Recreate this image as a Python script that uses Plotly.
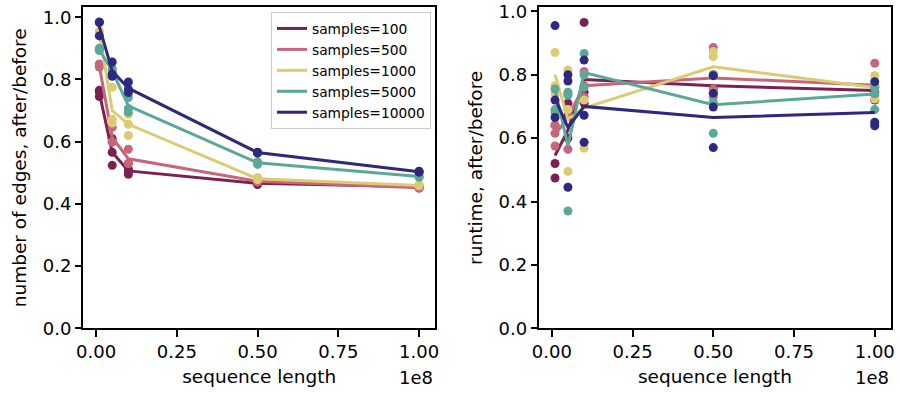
import plotly.graph_objects as go

seq_len = [1e6, 5e6, 1e7, 5e7, 1e8]
labels = ["samples=100", "samples=500", "samples=1000", "samples=5000", "samples=10000"]
colors = ["#7b2152", "#c7657a", "#dccb72", "#5aa998", "#2d2880"]

# left panel: number of edges, after/before  (line = mean, dots = replicates)
edges_mean = [
    [0.757, 0.566, 0.506, 0.466, 0.455],
    [0.843, 0.614, 0.545, 0.473, 0.452],
    [0.953, 0.700, 0.656, 0.481, 0.459],
    [0.895, 0.828, 0.715, 0.532, 0.488],
    [0.970, 0.827, 0.772, 0.565, 0.503],
]
edges_pts = [
    [[0.745, 0.76, 0.765], [0.566, 0.524, 0.61], [0.506, 0.495, 0.512], [0.469, 0.462, 0.467], [0.455, 0.457, 0.453]],
    [[0.84, 0.85, 0.845], [0.646, 0.598, 0.60], [0.576, 0.53, 0.53], [0.475, 0.47, 0.474], [0.452, 0.45, 0.454]],
    [[0.956, 0.95, 0.953], [0.775, 0.672, 0.66], [0.688, 0.656, 0.62], [0.485, 0.478, 0.48], [0.46, 0.458, 0.462]],
    [[0.897, 0.893, 0.90], [0.83, 0.82, 0.835], [0.742, 0.707, 0.695], [0.535, 0.527, 0.534], [0.49, 0.486, 0.488]],
    [[0.983, 0.94, 0.985], [0.856, 0.817, 0.81], [0.792, 0.768, 0.758], [0.565, 0.566, 0.563], [0.505, 0.502, 0.503]],
]

# right panel: runtime, after/before
rt_mean = [
    [0.545, 0.625, 0.785, 0.765, 0.750],
    [0.610, 0.665, 0.765, 0.790, 0.767],
    [0.800, 0.660, 0.695, 0.825, 0.760],
    [0.755, 0.575, 0.807, 0.705, 0.739],
    [0.725, 0.633, 0.700, 0.665, 0.681],
]
rt_pts = [
    [[0.52, 0.474, 0.64], [0.71, 0.67, 0.60], [0.965, 0.745, 0.71], [0.80, 0.755, 0.74], [0.76, 0.745, 0.72]],
    [[0.64, 0.575, 0.615], [0.69, 0.565, 0.74], [0.81, 0.765, 0.73], [0.886, 0.755, 0.73], [0.836, 0.765, 0.735]],
    [[0.87, 0.765, 0.74], [0.815, 0.495, 0.69], [0.80, 0.568, 0.72], [0.873, 0.857, 0.745], [0.797, 0.723, 0.76]],
    [[0.755, 0.69, 0.68], [0.745, 0.37, 0.735], [0.867, 0.80, 0.76], [0.80, 0.713, 0.615], [0.76, 0.74, 0.69]],
    [[0.955, 0.72, 0.665], [0.80, 0.78, 0.445], [0.846, 0.672, 0.587], [0.797, 0.742, 0.698, 0.57], [0.778, 0.65, 0.639]],
]

xtick_vals = [0, 2.5e7, 5e7, 7.5e7, 1e8]
xtick_text = ["0.00", "0.25", "0.50", "0.75", "1.00"]
ytick_vals = [0, 0.2, 0.4, 0.6, 0.8, 1.0]
ytick_text = ["0.0", "0.2", "0.4", "0.6", "0.8", "1.0"]

FONT = "DejaVu Sans"
TICK_SIZE = 18
TITLE_SIZE = 18.5

fig = go.Figure()


def add_panel(means, pts, xa, ya, legend):
    for i in range(len(labels)):
        xs, ys = [], []
        for j, reps in enumerate(pts[i]):
            xs += [seq_len[j]] * len(reps)
            ys += reps
        fig.add_trace(go.Scatter(x=xs, y=ys, mode="markers", xaxis=xa, yaxis=ya,
                                 marker=dict(color=colors[i], size=9, line=dict(width=0)),
                                 showlegend=False, hoverinfo="skip"))
        fig.add_trace(go.Scatter(x=seq_len, y=means[i], mode="lines", xaxis=xa, yaxis=ya,
                                 line=dict(color=colors[i], width=3),
                                 name=labels[i], showlegend=legend))


add_panel(edges_mean, edges_pts, "x", "y", True)
add_panel(rt_mean, rt_pts, "x2", "y2", False)

axis_common = dict(showline=True, linecolor="black", linewidth=1.5, mirror=True,
                   ticks="outside", ticklen=6.5, tickwidth=1.5, tickcolor="black",
                   showgrid=False, zeroline=False, automargin=False,
                   tickfont=dict(family=FONT, size=TICK_SIZE, color="black"))

xrange = [-3.95e6, 1.0495e8]
fig.update_layout(
    width=899, height=393,
    margin=dict(l=0, r=0, t=0, b=0),
    paper_bgcolor="white", plot_bgcolor="white",
    font=dict(family=FONT, color="black"),
    xaxis=dict(domain=[0.0927, 0.4839], range=xrange, tickvals=xtick_vals, ticktext=xtick_text,
               anchor="y", title=dict(text="sequence length", font=dict(size=TITLE_SIZE), standoff=9),
               **axis_common),
    yaxis=dict(domain=[0.1646, 0.9814], range=[0, 1.032], tickvals=ytick_vals, ticktext=ytick_text,
               anchor="x", title=dict(text="number of edges, after/before", font=dict(size=TITLE_SIZE), standoff=11),
               **axis_common),
    xaxis2=dict(domain=[0.5996, 0.9908], range=xrange, tickvals=xtick_vals, ticktext=xtick_text,
                anchor="y2", title=dict(text="sequence length", font=dict(size=TITLE_SIZE), standoff=9),
                **axis_common),
    yaxis2=dict(domain=[0.1646, 0.9814], range=[0, 1.0126], tickvals=ytick_vals, ticktext=ytick_text,
                anchor="x2", title=dict(text="runtime, after/before", font=dict(size=TITLE_SIZE), standoff=11),
                **axis_common),
    legend=dict(x=0.4794, y=0.9695, xanchor="right", yanchor="top",
                bgcolor="rgba(255,255,255,0.8)", bordercolor="#cccccc", borderwidth=1,
                font=dict(family=FONT, size=13.8, color="black"), itemwidth=30,
                tracegroupgap=0),
    showlegend=True,
)

for xd in [0.4839, 0.9908]:
    fig.add_annotation(text="1e8", x=xd, y=0, xref="paper", yref="paper",
                       xanchor="right", yanchor="bottom", yshift=3, showarrow=False,
                       font=dict(family=FONT, size=TICK_SIZE, color="black"))

fig.write_html("out.html", config={"displayModeBar": False},
               post_script="document.body.style.margin='0';document.body.style.padding='0';"
                           "document.documentElement.style.overflow='hidden';")
